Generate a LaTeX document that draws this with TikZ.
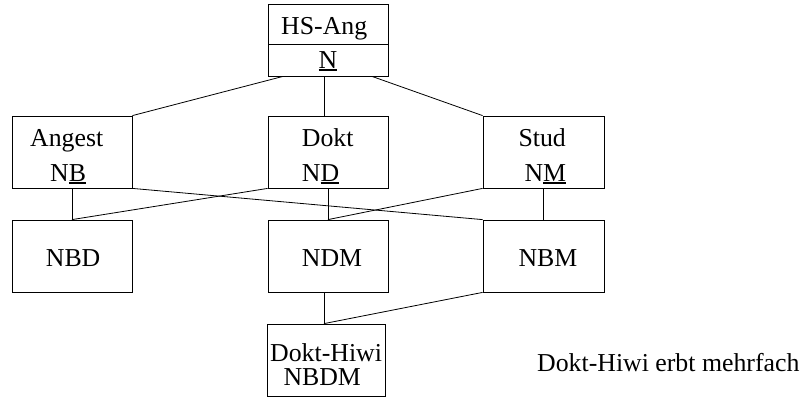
\documentclass[tikz,border=0pt]{standalone}
\usepackage{fontspec}
\setmainfont{Liberation Serif}
% underline with a rule just below the baseline
\newcommand{\keyul}[1]{\setbox0\hbox{#1}\rlap{\raisebox{-2.4pt}{\rule{\wd0}{1.8pt}}}\box0}
\begin{document}
\begin{tikzpicture}[x=1pt,y=-1pt,
  entity/.style={draw, line width=0.8pt, inner sep=0pt, minimum width=120pt, minimum height=72pt},
  txt/.style={anchor=base west, inner sep=0pt, font=\fontsize{25.8}{30}\selectfont},
  link/.style={line width=0.8pt}]
\useasboundingbox (0,0) rectangle (807,397);

% top entity, split in name and key
\node[entity, minimum height=40pt] (hstop) at (328,24) {};
\node[entity, minimum height=32pt] (hsbot) at (328,60) {};
\node[txt] (hsname) at (281,34.3) {HS-Ang};
\node[txt] (hskey) at (318.3,68.3) {\keyul{N}};

% first level
\node[entity] (angest) at (72,152) {};
\node[entity] (dokt) at (328,152) {};
\node[entity, minimum width=121pt] (stud) at (543.5,152) {};
\node[txt] (angestname) at (30,146.7) {Angest};
\node[txt] (angestkey) at (50,181.3) {N\keyul{B}};
\node[txt] (doktname) at (301.7,146.7) {Dokt};
\node[txt] (doktkey) at (301.7,181.3) {N\keyul{D}};
\node[txt] (studname) at (518.3,146.7) {Stud};
\node[txt] (studkey) at (524.3,181.3) {N\keyul{M}};

% second level
\node[entity] (nbd) at (72,256) {};
\node[entity] (ndm) at (328,256) {};
\node[entity, minimum width=121pt] (nbm) at (543.5,256) {};
\node[txt] (nbdname) at (45.7,266.7) {NBD};
\node[txt] (ndmname) at (301.7,266.7) {NDM};
\node[txt] (nbmname) at (518.3,266.7) {NBM};

% bottom entity
\node[entity, minimum width=118pt] (hiwi) at (326,360) {};
\node[txt] (hiwiname) at (270,361.7) {Dokt-Hiwi};
\node[txt] (hiwikey) at (283.3,385) {NBDM};

\node[txt] (note) at (537,371.7) {Dokt-Hiwi erbt mehrfach};

% inheritance links
\draw[link] ([xshift=-45pt]hsbot.south) -- (angest.north east);
\draw[link] ([xshift=-4pt]dokt.north |- hsbot.south) -- ([xshift=-4pt]dokt.north);
\draw[link] ([xshift=44pt]hsbot.south) -- (stud.north west);

\draw[link] (angest.south) -- (nbd.north);
\draw[link] (dokt.south west) -- (nbd.north);
\draw[link] (angest.south east) -- (nbm.north west);
\draw[link] (dokt.south) -- (ndm.north);
\draw[link] (stud.south west) -- (ndm.north);
\draw[link] (stud.south) -- (nbm.north);

\draw[link] ([xshift=-2pt]hiwi.north |- ndm.south) -- ([xshift=-2pt]hiwi.north);
\draw[link] (nbm.south west) -- ([xshift=-2pt]hiwi.north);
\end{tikzpicture}
\end{document}
